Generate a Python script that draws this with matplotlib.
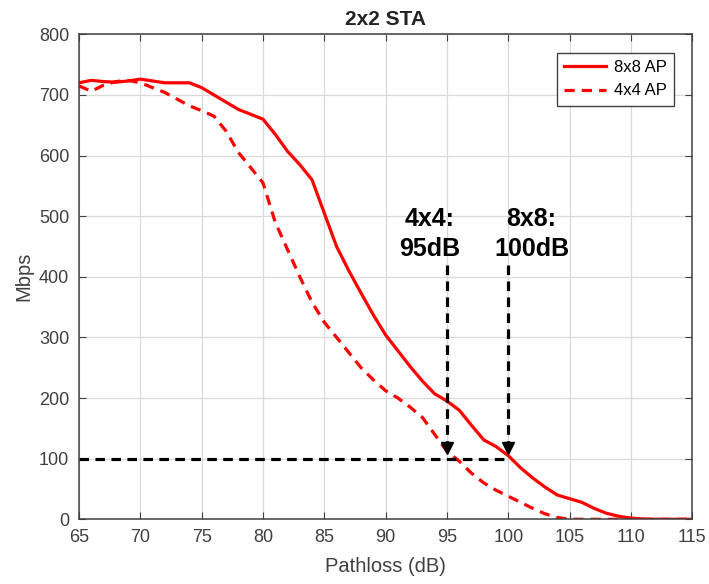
import numpy as np
import matplotlib.pyplot as plt

plt.rcParams['font.family'] = ['Liberation Sans', 'DejaVu Sans']

# Pathloss sweep (dB) and throughput (Mbps) for the two AP configurations
pathloss = np.arange(65, 116)
tput_8x8 = [720, 724, 722, 721, 723, 726, 723, 720, 720, 720,
            712, 700, 688, 676, 668, 660, 635, 607, 585, 560,
            505, 450, 410, 373, 337, 304, 278, 252, 228, 207,
            195, 180, 155, 131, 120, 105, 85, 68, 53, 40,
            34, 28, 18, 10, 5, 2, 0.5, 0, 0, 0, 0]
tput_4x4 = [715, 706, 716, 722, 724, 720, 712, 704, 693, 682,
            674, 665, 640, 605, 580, 555, 490, 445, 400, 358,
            325, 300, 275, 250, 230, 212, 200, 185, 168, 140,
            112, 96, 76, 60, 48, 38, 28, 18, 9, 3,
            0, 0, 0, 0, 0, 0, 0, 0, 0, 0, 0]
series_labels = ['8x8 AP', '4x4 AP']

# 100 Mbps range points
target_rate = 100
range_4x4 = 95
range_8x8 = 100

fig = plt.figure(figsize=(7.09, 5.84), dpi=100)
ax = fig.add_axes([0.1114, 0.1108, 0.865, 0.8305])

ax.plot(pathloss, tput_8x8, color='red', lw=2.3, label=series_labels[0])
ax.plot(pathloss, tput_4x4, color='red', lw=2.3, ls=(0, (3.2, 2.2)), label=series_labels[1])

# reference lines at 100 Mbps
ax.plot([65, range_8x8], [target_rate, target_rate], color='black', lw=2.3,
        ls=(0, (3.0, 2.0)))
for x in (range_4x4, range_8x8):
    ax.plot([x, x], [420, target_rate + 12], color='black', lw=2.3, ls=(0, (3.0, 2.0)))
    ax.plot(x, target_rate + 17, marker='v', color='black', ms=8)

ax.text(93.6, 470, '4x4:\n95dB', ha='center', va='center', fontsize=18,
        fontweight='bold', linespacing=1.3)
ax.text(101.9, 470, '8x8:\n100dB', ha='center', va='center', fontsize=18,
        fontweight='bold', linespacing=1.3)

ax.set_xlim(65, 115)
ax.set_ylim(0, 800)
ax.set_xticks(np.arange(65, 116, 5))
ax.set_yticks(np.arange(0, 801, 100))
ax.grid(True, color='#d9d9d9', lw=0.9)
ax.tick_params(direction='in', top=True, right=True, labelsize=13,
               colors='#404040', length=5, pad=7)
for s in ax.spines.values():
    s.set_color('#404040')
    s.set_linewidth(1.1)

ax.set_xlabel('Pathloss (dB)', fontsize=14.5, color='#404040', labelpad=8)
ax.set_ylabel('Mbps', fontsize=14.5, color='#404040', labelpad=4)
ax.set_title('2x2 STA', fontsize=15, fontweight='bold', color='#222222', pad=7)

leg = ax.legend(loc='upper right', fontsize=12, fancybox=False, handlelength=2.5,
                handletextpad=0.45, borderpad=0.45, labelspacing=0.5,
                borderaxespad=1.1, framealpha=1, edgecolor='#404040')
leg.get_frame().set_linewidth(1.0)

fig.savefig('out.png', dpi=100)
